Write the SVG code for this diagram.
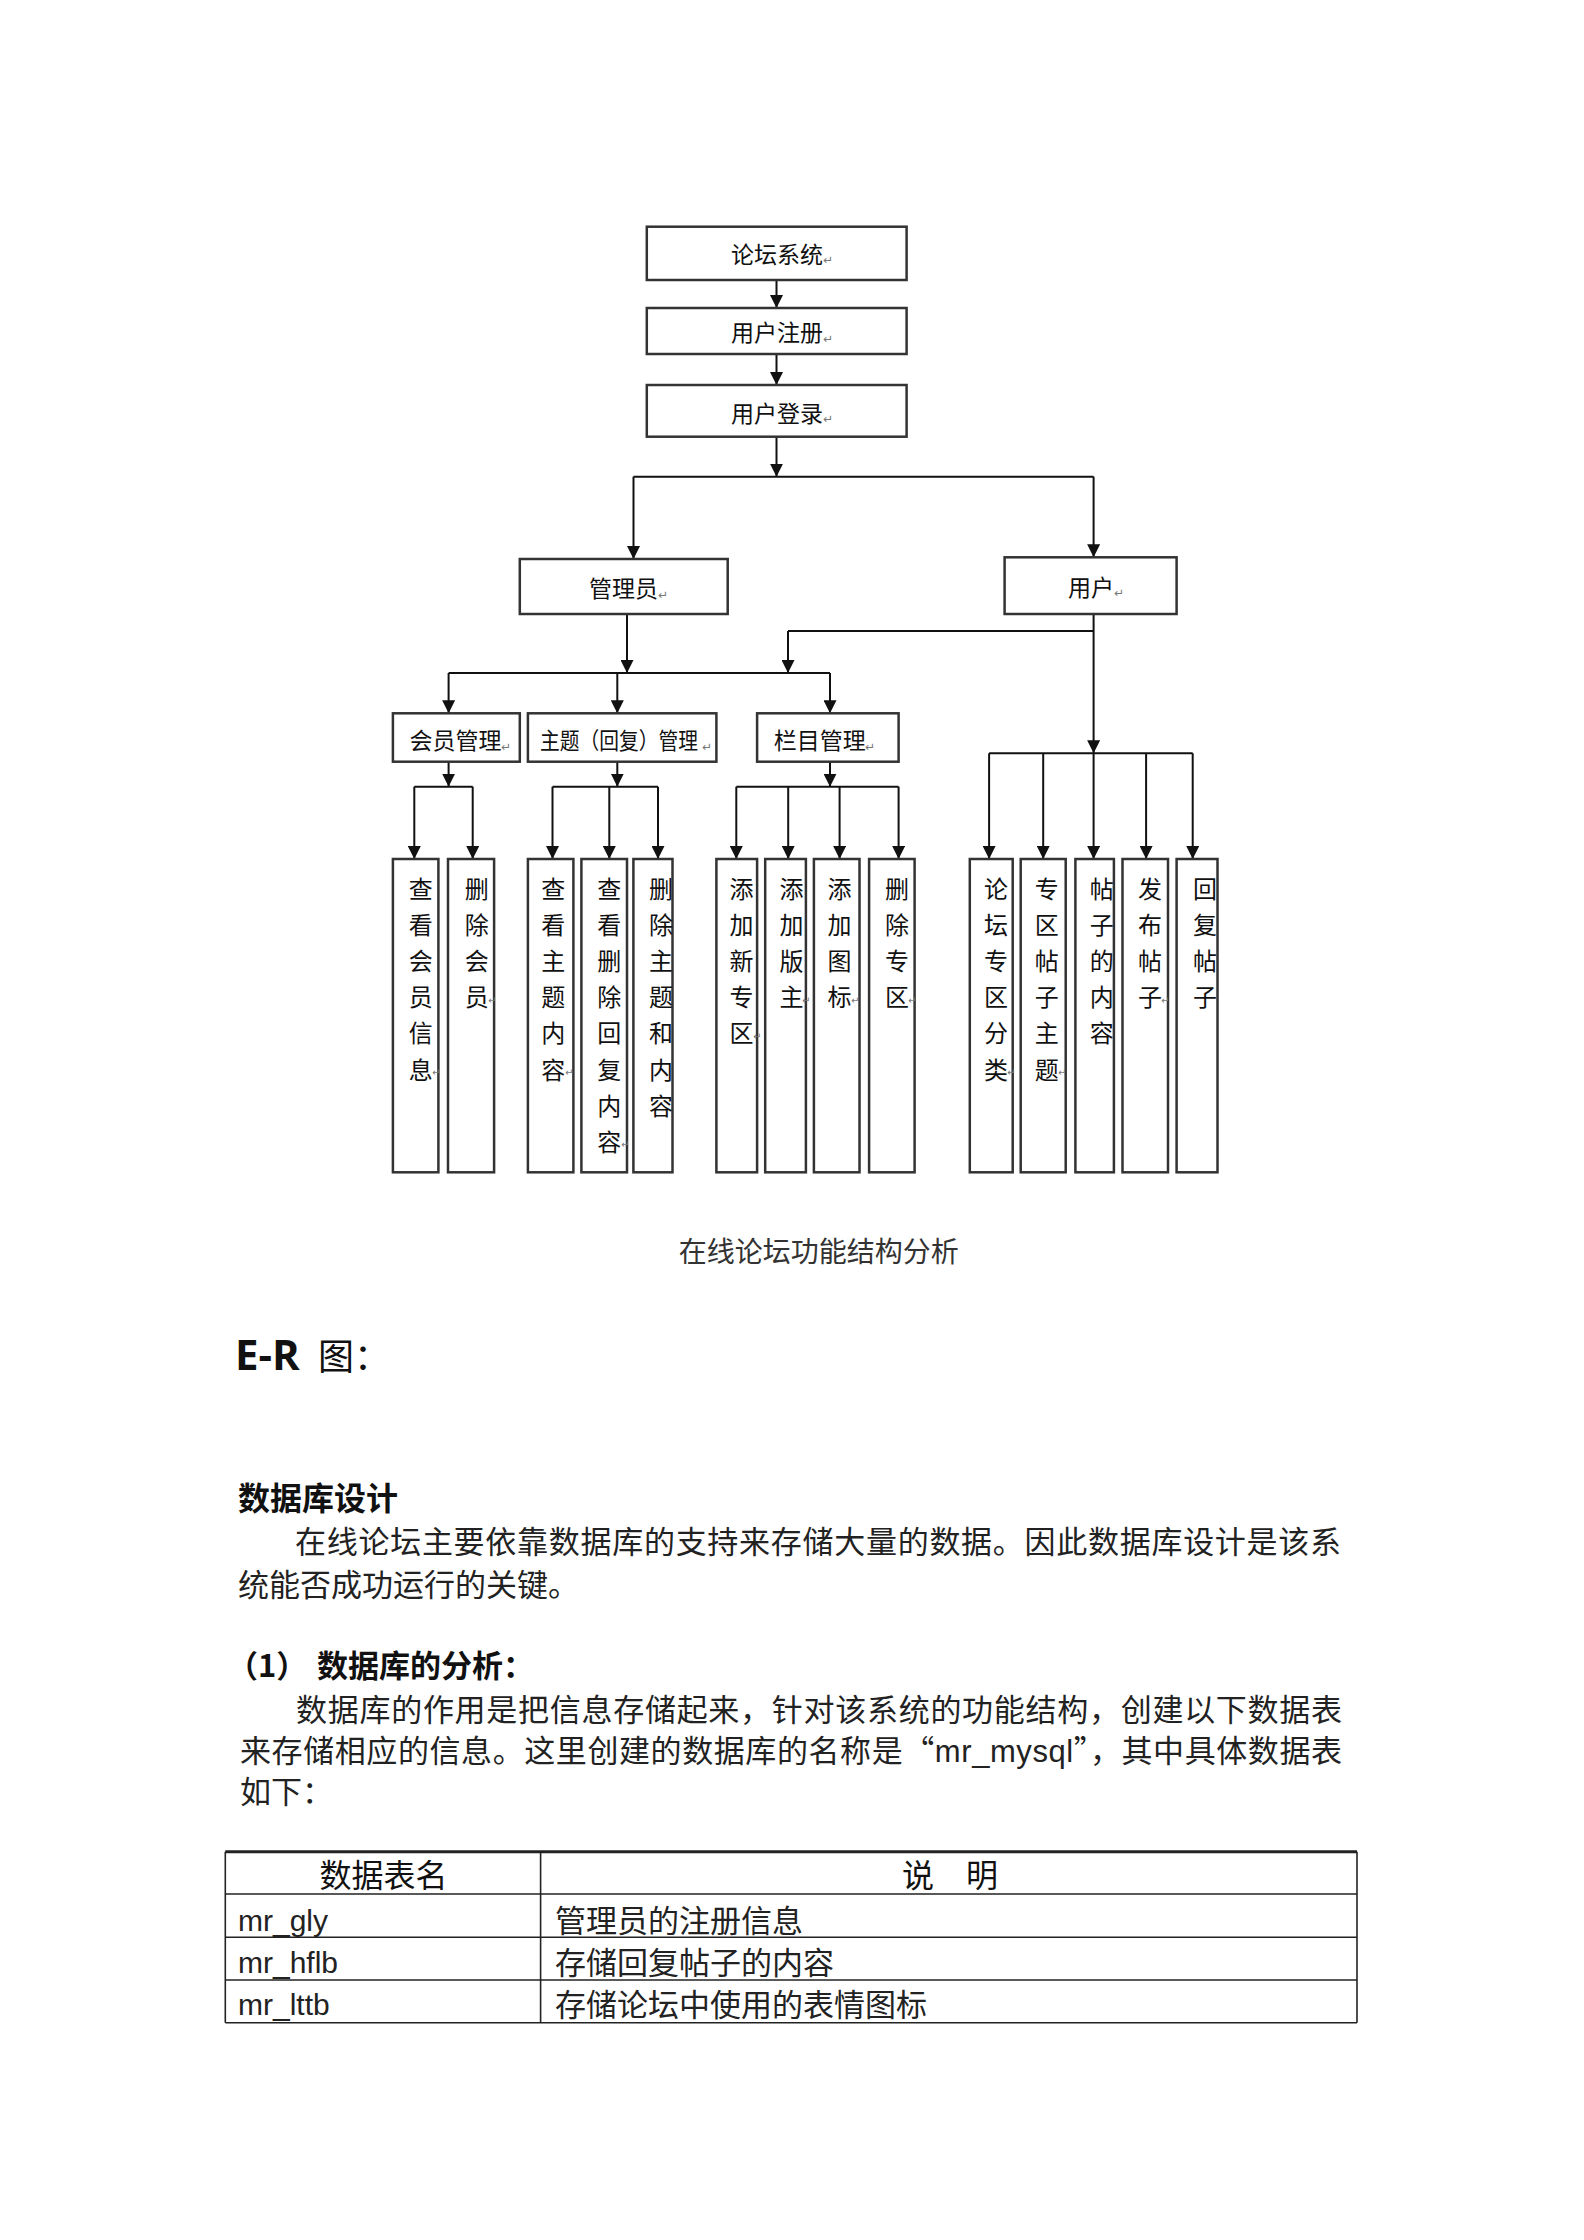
<svg xmlns="http://www.w3.org/2000/svg" width="1584" height="2240" viewBox="0 0 1584 2240">
<style>
.box{fill:#fff;stroke:#333;stroke-width:2.5}
.ln{stroke:#111;stroke-width:2;fill:none}
.arw{stroke:#111;stroke-width:2;fill:none;marker-end:url(#arr)}
.t{font-family:'Noto Sans CJK SC',sans-serif;font-size:23px;fill:#111}
.lf{font-family:'Noto Sans CJK SC',sans-serif;font-size:24px;fill:#111;text-anchor:middle}
.rt{font-family:'DejaVu Sans',sans-serif;font-size:12px;fill:#777}
.rs{font-family:'DejaVu Sans',sans-serif;font-size:10px;fill:#777}
.p{font-family:'Noto Sans CJK SC',sans-serif;font-size:31px;fill:#222}
.pb{font-family:'Noto Sans CJK SC',sans-serif;font-size:31px;font-weight:bold;fill:#111}
.lat{font-family:'Liberation Sans',Arial,sans-serif}
.tb{stroke:#222;stroke-width:1.6;fill:none}
</style>
<defs>
<marker id="arr" markerUnits="userSpaceOnUse" markerWidth="14" markerHeight="13" refX="13" refY="6.5" orient="auto"><path d="M0,0 L13,6.5 L0,13 z" fill="#111"/></marker>
</defs>
<rect x="0" y="0" width="1584" height="2240" fill="#fff"/>

<g id="connectors">
<line class="arw" x1="776.5" y1="280" x2="776.5" y2="308"/>
<line class="arw" x1="776.5" y1="354" x2="776.5" y2="385"/>
<line class="arw" x1="776.5" y1="436.7" x2="776.5" y2="476.7"/>
<line class="ln" x1="633.5" y1="476.7" x2="1093.6" y2="476.7"/>
<line class="arw" x1="633.5" y1="476.7" x2="633.5" y2="559"/>
<line class="arw" x1="1093.6" y1="476.7" x2="1093.6" y2="557.3"/>
<line class="arw" x1="627" y1="614" x2="627" y2="673"/>
<line class="arw" x1="1093.6" y1="614" x2="1093.6" y2="753.3"/>
<line class="ln" x1="788" y1="631" x2="1093.6" y2="631"/>
<line class="arw" x1="788" y1="631" x2="788" y2="673"/>
<line class="ln" x1="448.6" y1="673" x2="830" y2="673"/>
<line class="arw" x1="448.6" y1="673" x2="448.6" y2="713.3"/>
<line class="arw" x1="617.3" y1="673" x2="617.3" y2="713.3"/>
<line class="arw" x1="830" y1="673" x2="830" y2="713.3"/>
<line class="arw" x1="448.6" y1="761.7" x2="448.6" y2="786.7"/>
<line class="ln" x1="414.3" y1="786.7" x2="472.7" y2="786.7"/>
<line class="arw" x1="414.3" y1="786.7" x2="414.3" y2="859"/>
<line class="arw" x1="472.7" y1="786.7" x2="472.7" y2="859"/>
<line class="arw" x1="617.3" y1="761.7" x2="617.3" y2="786.7"/>
<line class="ln" x1="552.5" y1="786.7" x2="658" y2="786.7"/>
<line class="arw" x1="552.5" y1="786.7" x2="552.5" y2="859"/>
<line class="arw" x1="609.3" y1="786.7" x2="609.3" y2="859"/>
<line class="arw" x1="658" y1="786.7" x2="658" y2="859"/>
<line class="arw" x1="830" y1="761.7" x2="830" y2="786.7"/>
<line class="ln" x1="736.3" y1="786.7" x2="898.6" y2="786.7"/>
<line class="arw" x1="736.3" y1="786.7" x2="736.3" y2="859"/>
<line class="arw" x1="788.2" y1="786.7" x2="788.2" y2="859"/>
<line class="arw" x1="839.6" y1="786.7" x2="839.6" y2="859"/>
<line class="arw" x1="898.6" y1="786.7" x2="898.6" y2="859"/>
<line class="ln" x1="989.1" y1="753.3" x2="1192.7" y2="753.3"/>
<line class="arw" x1="989.1" y1="753.3" x2="989.1" y2="859"/>
<line class="arw" x1="1043.2" y1="753.3" x2="1043.2" y2="859"/>
<line class="arw" x1="1093.6" y1="753.3" x2="1093.6" y2="859"/>
<line class="arw" x1="1146.1" y1="753.3" x2="1146.1" y2="859"/>
<line class="arw" x1="1192.7" y1="753.3" x2="1192.7" y2="859"/>
</g>

<g id="n-luntan"><rect class="box" x="646.8" y="226.7" width="259.8" height="53.3"/><text class="t" x="731" y="262.5">论坛系统</text><text class="rt" x="823" y="264">↵</text></g>
<g id="n-zhuce"><rect class="box" x="646.8" y="308" width="259.8" height="46"/><text class="t" x="731" y="341">用户注册</text><text class="rt" x="823" y="343">↵</text></g>
<g id="n-denglu"><rect class="box" x="646.8" y="385" width="259.8" height="51.7"/><text class="t" x="731" y="421.5">用户登录</text><text class="rt" x="823" y="423">↵</text></g>
<g id="n-guanliyuan"><rect class="box" x="519.8" y="559" width="207.9" height="55"/><text class="t" x="589" y="597">管理员</text><text class="rt" x="658" y="599">↵</text></g>
<g id="n-yonghu"><rect class="box" x="1004.6" y="557.3" width="172" height="56.7"/><text class="t" x="1068" y="595.5">用户</text><text class="rt" x="1114" y="597">↵</text></g>
<g id="n-huiyuan"><rect class="box" x="392.9" y="713.3" width="126.9" height="48.4"/><text class="t" x="409.5" y="749">会员管理</text><text class="rt" x="501" y="751">↵</text></g>
<g id="n-zhuti"><rect class="box" x="527.9" y="713.3" width="188.5" height="48.4"/><text class="t" x="540" y="749" textLength="158" lengthAdjust="spacingAndGlyphs">主题（回复）管理</text><text class="rt" x="702" y="751">↵</text></g>
<g id="n-lanmu"><rect class="box" x="757.1" y="713.3" width="141.5" height="48.4"/><text class="t" x="773.7" y="749">栏目管理</text><text class="rt" x="865" y="751">↵</text></g>

<g id="leaf1"><rect class="box" x="392.9" y="859" width="45.5" height="313.3"/><text class="lf"><tspan x="420.7" y="897.6">查</tspan><tspan x="420.7" y="933.8">看</tspan><tspan x="420.7" y="970">会</tspan><tspan x="420.7" y="1006.2">员</tspan><tspan x="420.7" y="1042.4">信</tspan><tspan x="420.7" y="1078.6">息</tspan></text><text class="rs" x="432" y="1076">↵</text></g>
<g id="leaf2"><rect class="box" x="448" y="859" width="46.1" height="313.3"/><text class="lf"><tspan x="476.7" y="897.6">删</tspan><tspan x="476.7" y="933.8">除</tspan><tspan x="476.7" y="970">会</tspan><tspan x="476.7" y="1006.2">员</tspan></text><text class="rs" x="488" y="1004">↵</text></g>
<g id="leaf3"><rect class="box" x="527.9" y="859" width="45.5" height="313.3"/><text class="lf"><tspan x="553.3" y="897.6">查</tspan><tspan x="553.3" y="933.8">看</tspan><tspan x="553.3" y="970">主</tspan><tspan x="553.3" y="1006.2">题</tspan><tspan x="553.3" y="1042.4">内</tspan><tspan x="553.3" y="1078.6">容</tspan></text><text class="rs" x="565" y="1076">↵</text></g>
<g id="leaf4"><rect class="box" x="581.4" y="859" width="45.6" height="313.3"/><text class="lf"><tspan x="609.3" y="897.6">查</tspan><tspan x="609.3" y="933.8">看</tspan><tspan x="609.3" y="970">删</tspan><tspan x="609.3" y="1006.2">除</tspan><tspan x="609.3" y="1042.4">回</tspan><tspan x="609.3" y="1078.6">复</tspan><tspan x="609.3" y="1114.8">内</tspan><tspan x="609.3" y="1151">容</tspan></text><text class="rs" x="621" y="1148">↵</text></g>
<g id="leaf5"><rect class="box" x="633.4" y="859" width="39.1" height="313.3"/><text class="lf"><tspan x="661" y="897.6">删</tspan><tspan x="661" y="933.8">除</tspan><tspan x="661" y="970">主</tspan><tspan x="661" y="1006.2">题</tspan><tspan x="661" y="1042.4">和</tspan><tspan x="661" y="1078.6">内</tspan><tspan x="661" y="1114.8">容</tspan></text></g>
<g id="leaf6"><rect class="box" x="716.4" y="859" width="40.7" height="313.3"/><text class="lf"><tspan x="741.6" y="897.6">添</tspan><tspan x="741.6" y="933.8">加</tspan><tspan x="741.6" y="970">新</tspan><tspan x="741.6" y="1006.2">专</tspan><tspan x="741.6" y="1042.4">区</tspan></text><text class="rs" x="753" y="1040">↵</text></g>
<g id="leaf7"><rect class="box" x="765.2" y="859" width="40.7" height="313.3"/><text class="lf"><tspan x="791.4" y="897.6">添</tspan><tspan x="791.4" y="933.8">加</tspan><tspan x="791.4" y="970">版</tspan><tspan x="791.4" y="1006.2">主</tspan></text><text class="rs" x="802" y="1004">↵</text></g>
<g id="leaf8"><rect class="box" x="813.9" y="859" width="45.6" height="313.3"/><text class="lf"><tspan x="839.6" y="897.6">添</tspan><tspan x="839.6" y="933.8">加</tspan><tspan x="839.6" y="970">图</tspan><tspan x="839.6" y="1006.2">标</tspan></text><text class="rs" x="851" y="1004">↵</text></g>
<g id="leaf9"><rect class="box" x="869.1" y="859" width="45.5" height="313.3"/><text class="lf"><tspan x="897" y="897.6">删</tspan><tspan x="897" y="933.8">除</tspan><tspan x="897" y="970">专</tspan><tspan x="897" y="1006.2">区</tspan></text><text class="rs" x="908" y="1004">↵</text></g>
<g id="leaf10"><rect class="box" x="969.8" y="859" width="42.9" height="313.3"/><text class="lf"><tspan x="996" y="897.6">论</tspan><tspan x="996" y="933.8">坛</tspan><tspan x="996" y="970">专</tspan><tspan x="996" y="1006.2">区</tspan><tspan x="996" y="1042.4">分</tspan><tspan x="996" y="1078.6">类</tspan></text><text class="rs" x="1007" y="1076">↵</text></g>
<g id="leaf11"><rect class="box" x="1020.7" y="859" width="45" height="313.3"/><text class="lf"><tspan x="1046.7" y="897.6">专</tspan><tspan x="1046.7" y="933.8">区</tspan><tspan x="1046.7" y="970">帖</tspan><tspan x="1046.7" y="1006.2">子</tspan><tspan x="1046.7" y="1042.4">主</tspan><tspan x="1046.7" y="1078.6">题</tspan></text><text class="rs" x="1058" y="1076">↵</text></g>
<g id="leaf12"><rect class="box" x="1075.4" y="859" width="38.5" height="313.3"/><text class="lf"><tspan x="1101.7" y="897.6">帖</tspan><tspan x="1101.7" y="933.8">子</tspan><tspan x="1101.7" y="970">的</tspan><tspan x="1101.7" y="1006.2">内</tspan><tspan x="1101.7" y="1042.4">容</tspan></text></g>
<g id="leaf13"><rect class="box" x="1122.5" y="859" width="45.5" height="313.3"/><text class="lf"><tspan x="1150" y="897.6">发</tspan><tspan x="1150" y="933.8">布</tspan><tspan x="1150" y="970">帖</tspan><tspan x="1150" y="1006.2">子</tspan></text><text class="rs" x="1161" y="1004">↵</text></g>
<g id="leaf14"><rect class="box" x="1176.6" y="859" width="40.9" height="313.3"/><text class="lf"><tspan x="1205" y="897.6">回</tspan><tspan x="1205" y="933.8">复</tspan><tspan x="1205" y="970">帖</tspan><tspan x="1205" y="1006.2">子</tspan></text></g>

<text x="818.8" y="1261.5" text-anchor="middle" style="font-family:'Noto Sans CJK SC',sans-serif;font-size:28px;fill:#333">在线论坛功能结构分析</text>

<text x="235" y="1370" style="font-family:'Open Sans',sans-serif;font-weight:bold;font-size:42px;fill:#111">E-R</text>
<text x="318" y="1370" style="font-family:'Noto Sans CJK SC',sans-serif;font-size:36px;fill:#111">图：</text>

<text class="pb" x="238" y="1510" style="font-size:32px">数据库设计</text>
<text class="p" x="295" y="1553" textLength="1046" lengthAdjust="spacing">在线论坛主要依靠数据库的支持来存储大量的数据。因此数据库设计是该系</text>
<text class="p" x="238" y="1596">统能否成功运行的关键。</text>

<text class="pb" x="227" y="1677">（1）</text>
<text class="pb" x="317" y="1677">数据库的分析：</text>
<text class="p" x="296" y="1721" textLength="1046" lengthAdjust="spacing">数据库的作用是把信息存储起来，针对该系统的功能结构，创建以下数据表</text>
<text class="p" x="240" y="1762" textLength="1102" lengthAdjust="spacing">来存储相应的信息。这里创建的数据库的名称是“<tspan class="lat">mr_mysql</tspan>”，其中具体数据表</text>
<text class="p" x="240" y="1803">如下：</text>

<g id="table">
<line x1="225.3" y1="1851.7" x2="1357" y2="1851.7" stroke="#222" stroke-width="3"/>
<line class="tb" x1="225.3" y1="1894" x2="1357" y2="1894"/>
<line class="tb" x1="225.3" y1="1937.3" x2="1357" y2="1937.3"/>
<line class="tb" x1="225.3" y1="1980" x2="1357" y2="1980"/>
<line class="tb" x1="225.3" y1="2022.7" x2="1357" y2="2022.7"/>
<line class="tb" x1="225.3" y1="1851.7" x2="225.3" y2="2022.7"/>
<line class="tb" x1="540.6" y1="1851.7" x2="540.6" y2="2022.7"/>
<line class="tb" x1="1357" y1="1851.7" x2="1357" y2="2022.7"/>
<text class="p" x="383.6" y="1887" text-anchor="middle" style="font-size:32px;fill:#111">数据表名</text>
<text class="p" x="950" y="1887" text-anchor="middle" style="font-size:32px;fill:#111">说　明</text>
<text class="p lat" x="238" y="1931" style="font-size:30px">mr_gly</text>
<text class="p" x="555" y="1932">管理员的注册信息</text>
<text class="p lat" x="238" y="1973" style="font-size:30px">mr_hflb</text>
<text class="p" x="555" y="1974">存储回复帖子的内容</text>
<text class="p lat" x="238" y="2015" style="font-size:30px">mr_lttb</text>
<text class="p" x="555" y="2016">存储论坛中使用的表情图标</text>
</g>
</svg>
